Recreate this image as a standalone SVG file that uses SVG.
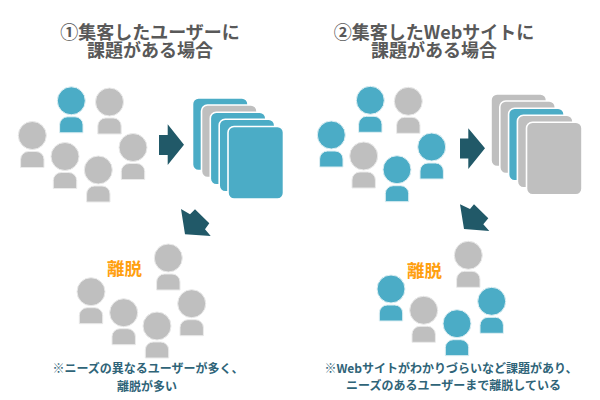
<svg xmlns="http://www.w3.org/2000/svg" width="600" height="400" viewBox="0 0 600 400">
<style>
text{font-family:"Noto Sans CJK JP","Noto Sans CJK SC",sans-serif;font-weight:700;text-anchor:middle}
.t{font-size:18px;fill:#595959}
.o{font-size:17.5px;fill:#ffa00f}
.n{font-size:12px;fill:#2f6478}
.b{fill:#4bacc6;stroke:#dfeff3;stroke-width:1}
.g{fill:#bfbfbf;stroke:#eaeaea;stroke-width:1}
.c{stroke:#fff;stroke-width:1.6}
.c.b{fill:#4bacc6}.c.g{fill:#bfbfbf}
.a{fill:#215968}
</style>
<defs>
<g id="p"><circle cx="0" cy="0" r="14"/><path d="M-11.7 32V24A8 8 0 0 1-3.7 16H3.7A8 8 0 0 1 11.7 24V32Z"/></g>
<rect id="k" width="55.5" height="72.5" rx="6"/>
</defs>
<rect width="600" height="400" fill="#fff"/>
<text class="t"><tspan x="150" y="39">①集客したユーザーに</tspan><tspan x="150" y="57">課題がある場合</tspan></text>
<text class="t"><tspan x="434" y="39">②集客したWebサイトに</tspan><tspan x="434" y="57">課題がある場合</tspan></text>
<g id="u1"><use href="#p" x="71.3" y="100.8" class="b"/></g>
<g id="u2"><use href="#p" x="109.5" y="102" class="g"/></g>
<g id="u3"><use href="#p" x="32.3" y="135.5" class="g"/></g>
<g id="u4"><use href="#p" x="65" y="156.5" class="g"/></g>
<g id="u5"><use href="#p" x="98.3" y="170" class="g"/></g>
<g id="u6"><use href="#p" x="133" y="147.5" class="g"/></g>
<g id="cards1">
<use href="#k" x="192.5" y="98" class="c b"/>
<use href="#k" x="201.5" y="105" class="c g"/>
<use href="#k" x="210.3" y="112.3" class="c b"/>
<use href="#k" x="219.2" y="119.3" class="c b"/>
<use href="#k" x="228" y="126.5" class="c b"/>
</g>
<g id="leave1"><text class="o" x="124.5" y="275">離脱</text></g>
<g id="d1"><use href="#p" x="168.3" y="258" class="g"/></g>
<g id="d2"><use href="#p" x="91" y="291.7" class="g"/></g>
<g id="d3"><use href="#p" x="123.7" y="312.7" class="g"/></g>
<g id="d4"><use href="#p" x="157" y="326" class="g"/></g>
<g id="d5"><use href="#p" x="191.7" y="303.7" class="g"/></g>
<text class="n"><tspan x="148" y="373">※ニーズの異なるユーザーが多く、</tspan><tspan x="147" y="391">離脱が多い</tspan></text>
<g id="v1"><use href="#p" x="370.3" y="100.3" class="b"/></g>
<g id="v2"><use href="#p" x="408.3" y="101.3" class="g"/></g>
<g id="v3"><use href="#p" x="331.3" y="135" class="b"/></g>
<g id="v4"><use href="#p" x="363.7" y="156" class="g"/></g>
<g id="v5"><use href="#p" x="397" y="169.7" class="b"/></g>
<g id="v6"><use href="#p" x="431.7" y="147" class="b"/></g>
<g id="cards2">
<use href="#k" x="491" y="94" class="c g"/>
<use href="#k" x="499.8" y="101" class="c g"/>
<use href="#k" x="508.6" y="108.3" class="c b"/>
<use href="#k" x="517.4" y="115.3" class="c g"/>
<use href="#k" x="526.5" y="122.3" class="c g"/>
</g>
<g id="leave2"><text class="o" x="424.5" y="277">離脱</text></g>
<g id="w1"><use href="#p" x="468.3" y="255.3" class="g"/></g>
<g id="w2"><use href="#p" x="391" y="289" class="b"/></g>
<g id="w3"><use href="#p" x="423.7" y="310.3" class="g"/></g>
<g id="w4"><use href="#p" x="457" y="323.7" class="b"/></g>
<g id="w5"><use href="#p" x="491.7" y="301.3" class="b"/></g>
<text class="n"><tspan x="451" y="373">※Webサイトがわかりづらいなど課題があり、</tspan><tspan x="453.5" y="390">ニーズのあるユーザーまで離脱している</tspan></text>
<g id="connectors">
<polygon class="a" points="159,135 167.7,135 167.7,124.3 184,144.7 167.7,165 167.7,155 159,155"/>
<polygon class="a" points="460,138.5 468.3,138.5 468.3,128.3 485,148.3 468.3,169 468.3,158.5 460,158.5"/>
<polygon class="a" points="181,209 190,214.3 195,209.3 209.3,223.3 205,229.3 210.7,236 185,234.3"/>
<polygon class="a" points="460,204.3 470,209 474,204.3 488.3,218.3 483.3,224.3 489.3,231 464,229"/>
</g>
</svg>
